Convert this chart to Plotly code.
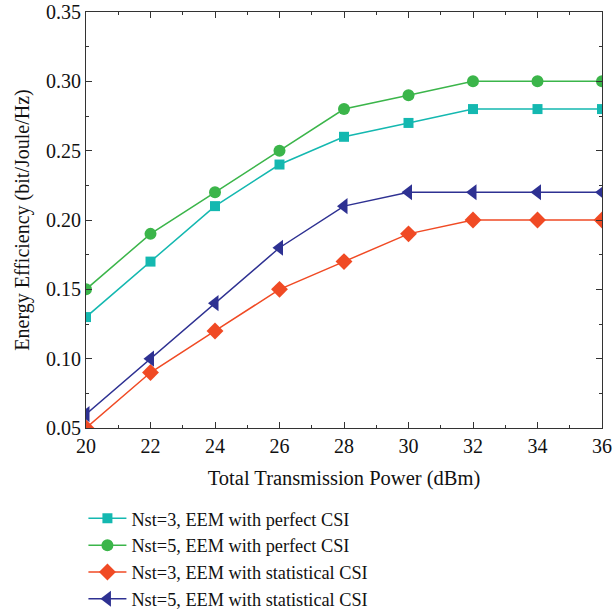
import plotly.graph_objects as go

power = [20, 22, 24, 26, 28, 30, 32, 34, 36]
nst3_perfect = [0.13, 0.17, 0.21, 0.24, 0.26, 0.27, 0.28, 0.28, 0.28]
nst5_perfect = [0.15, 0.19, 0.22, 0.25, 0.28, 0.29, 0.30, 0.30, 0.30]
nst3_stat = [0.05, 0.09, 0.12, 0.15, 0.17, 0.19, 0.20, 0.20, 0.20]
nst5_stat = [0.06, 0.10, 0.14, 0.18, 0.21, 0.22, 0.22, 0.22, 0.22]

names = ["Nst=3, EEM with perfect CSI", "Nst=5, EEM with perfect CSI",
         "Nst=3, EEM with statistical CSI", "Nst=5, EEM with statistical CSI"]
series = [nst3_perfect, nst5_perfect, nst3_stat, nst5_stat]
colors = ["#14b8b0", "#3bb54a", "#f04a24", "#2e3192"]
symbols = ["square", "circle", "diamond", "triangle-left"]
sizes = [10, 12, 13, 14]

FONT = "Liberation Serif"
fig = go.Figure()
for n, s, c, sym, sz in zip(names, series, colors, symbols, sizes):
    fig.add_trace(go.Scatter(x=power, y=s, name=n, mode="lines+markers",
                             line=dict(color=c, width=1.5),
                             marker=dict(symbol=sym, size=sz, color=c, line=dict(width=0)),
                             cliponaxis=True))

axis_common = dict(showline=True, linecolor="#333", linewidth=1.2, mirror="allticks",
                   ticks="inside", ticklen=6, tickcolor="#333", showgrid=False, zeroline=False,
                   automargin=False,
                   tickfont=dict(family=FONT, size=20, color="#111"))
fig.update_layout(
    width=613, height=616,
    margin=dict(l=86, r=11, t=12, b=188, autoexpand=False),
    plot_bgcolor="white", paper_bgcolor="white",
    font=dict(family=FONT, color="#111"),
    xaxis=dict(range=[20, 36], dtick=2, tick0=20,
               minor=dict(ticks="inside", ticklen=3, dtick=1, tickcolor="#333"),
               title=dict(text="Total Transmission Power (dBm)", font=dict(family=FONT, size=20.5), standoff=14),
               **axis_common),
    yaxis=dict(range=[0.05, 0.35], dtick=0.05, tick0=0.05, tickformat=".2f",
               minor=dict(ticks="inside", ticklen=3, dtick=0.025, tickcolor="#333"),
               title=dict(text="Energy Efficiency (bit/Joule/Hz)", font=dict(family=FONT, size=20), standoff=10),
               **axis_common),
    legend=dict(x=-0.005, y=-0.173, xanchor="left", yanchor="top", bgcolor="rgba(0,0,0,0)",
                font=dict(family=FONT, size=18.3), tracegroupgap=0, itemwidth=38),
    showlegend=True,
)
fig.write_html("out.html")
